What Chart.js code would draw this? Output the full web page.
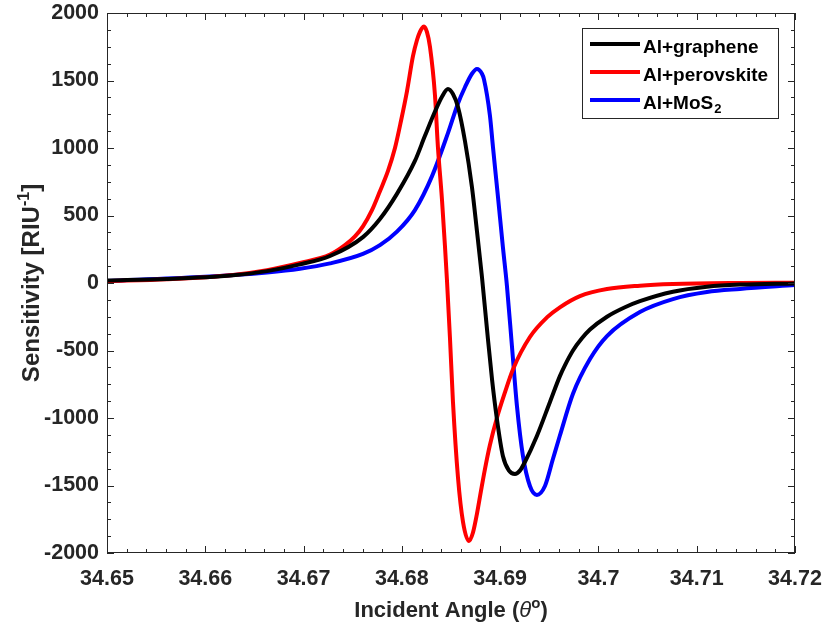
<!DOCTYPE html>
<html>
<head>
<meta charset="utf-8">
<script src="https://cdn.jsdelivr.net/npm/chart.js@4.4.1/dist/chart.umd.min.js"></script>
<style>
  html, body { margin: 0; padding: 0; background: #fff; }
  #wrap { width: 822px; height: 630px; }
</style>
</head>
<body>
<div id="wrap"><canvas id="sensChart" width="822" height="630"></canvas></div>
<script>
// Datos: angulo de incidencia (grados) y sensibilidad (RIU^-1)
const angleGraphene = [34.65000, 34.65610, 34.66282, 34.66628, 34.66963, 34.67269, 34.67604, 34.67777, 34.67950, 34.68133,
  34.68235, 34.68337, 34.68408, 34.68469, 34.68520, 34.68571, 34.68642, 34.68713, 34.68764, 34.68815,
  34.68866, 34.68917, 34.68967, 34.69028, 34.69090, 34.69151, 34.69201, 34.69252, 34.69374, 34.69507,
  34.69608, 34.69659, 34.69741, 34.69832, 34.69914, 34.70087, 34.70270, 34.70422, 34.70758, 34.71104,
  34.71440, 34.72000];
const sensGraphene = [18, 30, 58, 88, 138, 200, 340, 474, 660, 904,
  1090, 1270, 1380, 1437, 1400, 1304, 1052, 711, 385, 44,
  -341, -711, -1007, -1281, -1390, -1415, -1390, -1326, -1133, -881,
  -690, -610, -500, -410, -345, -250, -180, -135, -65, -28,
  -12, -3];

const anglePerovskite = [34.65000, 34.65610, 34.66282, 34.66628, 34.66963, 34.67269, 34.67421, 34.67523, 34.67604, 34.67696,
  34.67777, 34.67859, 34.67930, 34.67991, 34.68052, 34.68113, 34.68154, 34.68184, 34.68205, 34.68225,
  34.68255, 34.68286, 34.68337, 34.68367, 34.68408, 34.68438, 34.68459, 34.68489, 34.68520, 34.68571,
  34.68622, 34.68683, 34.68723, 34.68764, 34.68805, 34.68845, 34.68896, 34.68967, 34.69049, 34.69130,
  34.69303, 34.69476, 34.69608, 34.69812, 34.70087, 34.70422, 34.70758, 34.71440, 34.72000];
const sensPerovskite = [15, 28, 60, 95, 148, 210, 280, 345, 420, 540,
  680, 830, 1000, 1200, 1420, 1680, 1800, 1860, 1888, 1900,
  1860, 1750, 1390, 1007, 620, 280, 20, -400, -880, -1440,
  -1770, -1911, -1850, -1710, -1540, -1380, -1200, -1000, -810, -640,
  -400, -255, -180, -97, -45, -20, -8, 0, 2];

const angleMoS2 = [34.65000, 34.65946, 34.66628, 34.66963, 34.67269, 34.67604, 34.67777, 34.67950, 34.68133, 34.68306,
  34.68469, 34.68571, 34.68642, 34.68713, 34.68764, 34.68815, 34.68835, 34.68896, 34.68927, 34.68978,
  34.69028, 34.69069, 34.69120, 34.69171, 34.69232, 34.69303, 34.69374, 34.69456, 34.69537, 34.69608,
  34.69741, 34.69914, 34.70087, 34.70422, 34.70758, 34.71104, 34.71440, 34.72000];
const sensMoS2 = [15, 44, 78, 105, 145, 215, 280, 380, 540, 790,
  1110, 1330, 1450, 1550, 1585, 1550, 1510, 1240, 1007, 637,
  267, -20, -467, -911, -1281, -1504, -1570, -1504, -1304, -1130,
  -820, -563, -393, -215, -119, -67, -44, -15];

const seriesLabels = ['Al+graphene', 'Al+perovskite', 'Al+MoS₂'];
const seriesColors = ['#000000', '#ff0000', '#0000ff'];

const xTicks = [34.65, 34.66, 34.67, 34.68, 34.69, 34.70, 34.71, 34.72];
const xTickLabels = ['34.65', '34.66', '34.67', '34.68', '34.69', '34.7', '34.71', '34.72'];
const yTicks = [-2000, -1500, -1000, -500, 0, 500, 1000, 1500, 2000];
const yTickLabels = ['-2000', '-1500', '-1000', '-500', '0', '500', '1000', '1500', '2000'];

const FONT = "'Liberation Sans', Arial, Helvetica, sans-serif";
const INK = '#262626';

function toPoints(xs, ys) {
    return xs.map((x, i) => ({ x: x, y: ys[i] }));
}

// Marco y marcas hacia dentro (estilo MATLAB)
const frameTicks = {
    id: 'frameTicks',
    afterDatasetsDraw(chart) {
        const { ctx, chartArea: a, scales: { x, y } } = chart;
        ctx.save();
        ctx.strokeStyle = INK;
        ctx.lineWidth = 1;
        ctx.strokeRect(a.left + 0.5, a.top + 0.5, a.right - a.left - 1, a.bottom - a.top - 1);
        ctx.beginPath();
        for (let i = 0; i <= 35; i++) {
            const px = Math.round(x.getPixelForValue(34.65 + i * 0.002)) + 0.5;
            const len = i % 5 === 0 ? 7 : 4;
            ctx.moveTo(px, a.bottom); ctx.lineTo(px, a.bottom - len);
            ctx.moveTo(px, a.top); ctx.lineTo(px, a.top + len);
        }
        for (let i = 0; i <= 32; i++) {
            const py = Math.round(y.getPixelForValue(-2000 + i * 125)) + 0.5;
            const len = i % 4 === 0 ? 7 : 4;
            ctx.moveTo(a.left, py); ctx.lineTo(a.left + len, py);
            ctx.moveTo(a.right, py); ctx.lineTo(a.right - len, py);
        }
        ctx.stroke();
        ctx.restore();
    }
};

// Dibuja un texto por partes (superindices, cursiva) centrado en (cx, base)
function drawParts(ctx, parts, cx, base) {
    let total = 0;
    parts.forEach(p => { ctx.font = p.font; total += ctx.measureText(p.text).width; });
    let x = cx - total / 2;
    parts.forEach(p => {
        ctx.font = p.font;
        ctx.fillText(p.text, x, base + (p.dy || 0));
        x += ctx.measureText(p.text).width;
    });
}

const axisTitles = {
    id: 'axisTitles',
    afterDraw(chart) {
        const { ctx, chartArea: a } = chart;
        ctx.save();
        ctx.fillStyle = INK;
        ctx.textAlign = 'left';
        ctx.textBaseline = 'alphabetic';
        drawParts(ctx, [
            { text: 'Incident Angle (', font: 'bold 22px ' + FONT },
            { text: 'θ', font: 'italic 22px ' + FONT },
            { text: 'o', font: 'bold 15px ' + FONT, dy: -9 },
            { text: ')', font: 'bold 22px ' + FONT }
        ], (a.left + a.right) / 2, 617);

        ctx.translate(39, (a.top + a.bottom) / 2);
        ctx.rotate(-Math.PI / 2);
        drawParts(ctx, [
            { text: 'Sensitivity [RIU', font: 'bold 24px ' + FONT },
            { text: '-1', font: 'bold 16px ' + FONT, dy: -10 },
            { text: ']', font: 'bold 24px ' + FONT }
        ], 0, 0);
        ctx.restore();
    }
};

// Leyenda con caja dentro del area del grafico
const boxLegend = {
    id: 'boxLegend',
    afterDraw(chart) {
        const { ctx, chartArea: a } = chart;
        const left = a.right - 213, top = a.top + 15, w = 196, h = 90;
        ctx.save();
        ctx.fillStyle = '#ffffff';
        ctx.fillRect(left, top, w, h);
        ctx.strokeStyle = INK;
        ctx.lineWidth = 1;
        ctx.strokeRect(left + 0.5, top + 0.5, w, h);
        chart.data.datasets.forEach((ds, i) => {
            const ly = top + 16 + i * 28;
            ctx.strokeStyle = ds.borderColor;
            ctx.lineWidth = 4;
            ctx.beginPath();
            ctx.moveTo(left + 8, ly);
            ctx.lineTo(left + 58, ly);
            ctx.stroke();
            ctx.fillStyle = '#000000';
            ctx.textAlign = 'left';
            ctx.textBaseline = 'alphabetic';
            const parts = ds.label.split('₂');
            ctx.font = 'bold 19px ' + FONT;
            ctx.fillText(parts[0], left + 61, ly + 9);
            if (parts.length > 1) {
                const wMain = ctx.measureText(parts[0]).width;
                ctx.font = 'bold 13px ' + FONT;
                ctx.fillText('2', left + 62 + wMain, ly + 13);
            }
        });
        ctx.restore();
    }
};

const datasets = [
    { label: seriesLabels[0], data: toPoints(angleGraphene, sensGraphene), borderColor: seriesColors[0] },
    { label: seriesLabels[1], data: toPoints(anglePerovskite, sensPerovskite), borderColor: seriesColors[1] },
    { label: seriesLabels[2], data: toPoints(angleMoS2, sensMoS2), borderColor: seriesColors[2] }
].map(ds => Object.assign(ds, {
    showLine: true,
    borderWidth: 4,
    pointRadius: 0,
    fill: false,
    cubicInterpolationMode: 'monotone'
}));

const ctx = document.getElementById('sensChart').getContext('2d');
new Chart(ctx, {
    type: 'scatter',
    data: { datasets: datasets },
    options: {
        responsive: false,
        animation: false,
        layout: { padding: { top: 13, right: 27, left: 0, bottom: 0 } },
        plugins: {
            legend: { display: false },
            tooltip: { enabled: false }
        },
        scales: {
            x: {
                type: 'linear',
                min: 34.65,
                max: 34.72,
                afterBuildTicks: s => { s.ticks = xTicks.map(v => ({ value: v })); },
                afterFit: s => {
                    s.height = 77;
                    s.paddingLeft = 0;
                    s.paddingRight = 0;
                },
                ticks: {
                    callback: (v, i) => xTickLabels[i],
                    font: { family: FONT, size: 21.5, weight: 'bold' },
                    color: INK,
                    padding: 13,
                    maxRotation: 0,
                    autoSkip: false
                },
                grid: { display: false, drawTicks: false },
                border: { display: false }
            },
            y: {
                min: -2000,
                max: 2000,
                afterBuildTicks: s => { s.ticks = yTicks.map(v => ({ value: v })); },
                afterFit: s => {
                    s.width = 107;
                    s.paddingTop = 0;
                    s.paddingBottom = 0;
                },
                ticks: {
                    callback: (v, i) => yTickLabels[i],
                    font: { family: FONT, size: 21.5, weight: 'bold' },
                    color: INK,
                    padding: 8,
                    autoSkip: false
                },
                grid: { display: false, drawTicks: false },
                border: { display: false }
            }
        }
    },
    plugins: [frameTicks, axisTitles, boxLegend]
});
</script>
</body>
</html>
